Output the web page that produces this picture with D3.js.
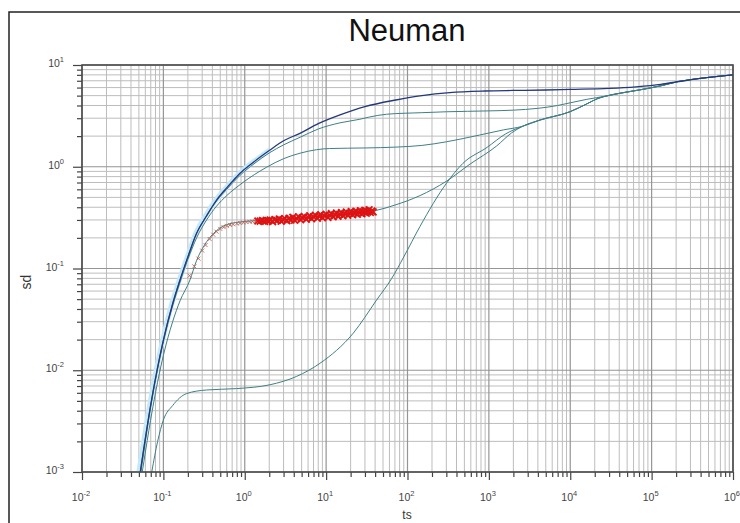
<!DOCTYPE html>
<html><head><meta charset="utf-8">
<script src="https://cdn.jsdelivr.net/npm/d3@7"></script>
<style>body{margin:0;background:#fff}svg{display:block}</style>
</head><body>
<script>
// ---- data ----
const title = "Neuman";
const xLabel = "ts";
const yLabel = "sd";
const xDomain = [1e-2, 1e6];
const yDomain = [1e-3, 1e1];
const xExponents = [-2, -1, 0, 1, 2, 3, 4, 5, 6];
const yExponents = [-3, -2, -1, 0, 1];

// shared late-time branch
const lateTail = [[27500,4.95],[45000,5.35],[72000,5.7],[130000,6.25],[210000,6.86],[400000,7.4],[1000000,8.0]];
const lowTail = [[2600,2.5],[4260,2.88],[9890,3.47],[16000,4.15],[22000,4.7]];

const curveTop = [[0.052,0.001],[0.07,0.0046],[0.1,0.0198],[0.13,0.045],[0.16,0.077],[0.2,0.13],[0.256,0.222],[0.34,0.33],[0.45,0.47],[0.6,0.62],[0.87,0.86],[1.3,1.12],[2.04,1.46],[3,1.8],[4.76,2.13],[8,2.65],[14.8,3.23],[30,3.9],[72,4.53],[150,5.0],[330,5.35],[900,5.55],[1950,5.62],[5000,5.68],[10000,5.75],[30000,5.88],[64500,6.1],[130000,6.45],[210000,6.86],[400000,7.4],[1000000,8.0]];
const curveB2 = [[0.052,0.001],[0.07,0.0046],[0.1,0.0198],[0.13,0.045],[0.16,0.077],[0.2,0.13],[0.256,0.222],[0.34,0.33],[0.45,0.46],[0.6,0.6],[0.87,0.82],[1.3,1.07],[2.04,1.38],[3,1.64],[4.8,1.95],[8,2.35],[14.8,2.7],[26,2.93],[34,3.08],[55,3.28],[150,3.4],[300,3.47],[1000,3.54],[2000,3.6],[4000,3.75],[7000,4.0],[10000,4.25],[16000,4.6]];
const curveB3 = [[0.053,0.001],[0.07,0.0044],[0.1,0.019],[0.13,0.043],[0.16,0.073],[0.2,0.123],[0.256,0.2],[0.34,0.3],[0.45,0.41],[0.6,0.52],[0.95,0.7],[1.86,0.99],[3,1.2],[4.8,1.36],[7.6,1.47],[11,1.51],[30,1.53],[72,1.56],[150,1.62],[302,1.76],[770,2.05],[1500,2.3]];
const curveB4 = [[0.055,0.001],[0.08,0.006],[0.1,0.014],[0.13,0.03],[0.16,0.048],[0.212,0.077],[0.256,0.12],[0.32,0.17],[0.41,0.22],[0.6,0.27],[1,0.29],[2,0.3],[5,0.315],[10,0.33],[20,0.345],[40,0.37],[70,0.42],[142,0.52],[300,0.72],[585,1.06],[1245,1.6],[1900,2.15]];
const curveB5 = [[0.072,0.001],[0.085,0.002],[0.1,0.00324],[0.13,0.0045],[0.193,0.0059],[0.34,0.0064],[0.79,0.0066],[2.04,0.0072],[4.34,0.0087],[8.4,0.0117],[21.5,0.0231],[41.7,0.049],[64,0.08],[90,0.13],[142,0.258],[302,0.69],[480,1.08],[950,1.55],[1600,2.1]];
const haloTop = [[0.05,0.001],[0.068,0.0046],[0.098,0.0198],[0.127,0.045],[0.157,0.077],[0.197,0.13],[0.25,0.222],[0.33,0.33],[0.44,0.47],[0.6,0.63],[0.87,0.87],[1.3,1.13],[2.04,1.47]];

const dataTs = [0.21,0.24,0.27,0.3,0.33,0.37,0.41,0.45,0.5,0.55,0.6,0.66,0.72,0.8,0.88,0.96,1.05,1.15,1.25,1.35,1.45,1.55,1.65,1.75,1.85,1.95,2.05,2.2,2.35,2.5,2.65,2.8,2.95,3.1,3.3,3.5,3.7,3.9,4.1,4.35,4.6,4.85,5.1,5.4,5.7,6.0,6.3,6.6,7.0,7.4,7.8,8.2,8.6,9.0,9.5,10,10.5,11,11.6,12.2,12.8,13.4,14,14.7,15.4,16.1,16.9,17.7,18.5,19.4,20.3,21.2,22.2,23.2,24.2,25.3,26.4,27.5,28.7,29.9,31.1,32.4,33.7,35,36.4,37.8];
const dataSd = [0.085,0.105,0.125,0.15,0.17,0.195,0.215,0.23,0.245,0.255,0.262,0.268,0.272,0.276,0.28,0.283,0.286,0.288,0.29,0.291,0.293,0.292,0.296,0.29,0.298,0.294,0.3,0.289,0.303,0.296,0.307,0.292,0.301,0.31,0.295,0.312,0.3,0.318,0.298,0.31,0.322,0.302,0.315,0.325,0.305,0.319,0.33,0.308,0.322,0.334,0.312,0.327,0.338,0.316,0.33,0.342,0.318,0.334,0.346,0.322,0.337,0.35,0.326,0.341,0.354,0.33,0.345,0.358,0.334,0.349,0.362,0.338,0.352,0.366,0.342,0.356,0.37,0.346,0.36,0.374,0.35,0.364,0.378,0.355,0.368,0.36];

// ---- drawing ----
const W = 740, H = 523;
const svg = d3.select("body").append("svg").attr("width", W).attr("height", H);
const x = d3.scaleLog().domain(xDomain).range([82, 733]);
const y = d3.scaleLog().domain(yDomain).range([472, 65]);

svg.append("rect").attr("x", 9).attr("y", 12).attr("width", 745).attr("height", 530)
  .attr("fill", "none").attr("stroke", "#222").attr("stroke-width", 1.5);

svg.append("text").attr("x", 407).attr("y", 41).attr("text-anchor", "middle")
  .attr("font-family", "Liberation Sans, Arial, sans-serif").attr("font-size", 31).attr("fill", "#111").text(title);

const minorOf = (exps) => {
  const out = [];
  for (let i = 0; i < exps.length - 1; i++) for (let k = 2; k <= 9; k++) out.push(k * Math.pow(10, exps[i]));
  return out;
};
const xMajor = xExponents.map(e => Math.pow(10, e));
const yMajor = yExponents.map(e => Math.pow(10, e));
const xMinor = minorOf(xExponents);
const yMinor = minorOf(yExponents);

const grid = svg.append("g");
grid.selectAll(".vx").data(xMinor).join("line").attr("x1", d => x(d)).attr("x2", d => x(d)).attr("y1", 65).attr("y2", 472).attr("stroke", "#bdbdbd").attr("stroke-width", 1);
grid.selectAll(".hy").data(yMinor).join("line").attr("y1", d => y(d)).attr("y2", d => y(d)).attr("x1", 82).attr("x2", 733).attr("stroke", "#bdbdbd").attr("stroke-width", 1);
grid.selectAll(".vX").data(xMajor).join("line").attr("x1", d => x(d)).attr("x2", d => x(d)).attr("y1", 65).attr("y2", 472).attr("stroke", "#959595").attr("stroke-width", 1.2);
grid.selectAll(".hY").data(yMajor).join("line").attr("y1", d => y(d)).attr("y2", d => y(d)).attr("x1", 82).attr("x2", 733).attr("stroke", "#959595").attr("stroke-width", 1.2);

// axes ticks
const axB = svg.append("g").attr("transform", "translate(0,472)");
axB.call(d3.axisBottom(x).tickValues(xMinor).tickSize(5).tickFormat(""));
const axB2 = svg.append("g").attr("transform", "translate(0,472)");
axB2.call(d3.axisBottom(x).tickValues(xMajor).tickSize(8).tickFormat(""));
const axL = svg.append("g").attr("transform", "translate(82,0)");
axL.call(d3.axisLeft(y).tickValues(yMinor).tickSize(5).tickFormat(""));
const axL2 = svg.append("g").attr("transform", "translate(82,0)");
axL2.call(d3.axisLeft(y).tickValues(yMajor).tickSize(9).tickFormat(""));
svg.selectAll(".domain").remove();
svg.selectAll(".tick line").attr("stroke", "#444").attr("stroke-width", 1.2);

const font = "Liberation Sans, Arial, sans-serif";
xExponents.forEach(e => {
  const t = svg.append("text").attr("x", x(Math.pow(10, e)) - 1).attr("y", 501).attr("text-anchor", "middle")
    .attr("font-family", font).attr("font-size", 10.5).attr("fill", "#444");
  t.append("tspan").text("10");
  t.append("tspan").attr("dy", -5).attr("font-size", 7.5).text(e);
});
yExponents.forEach(e => {
  const t = svg.append("text").attr("x", 64).attr("y", y(Math.pow(10, e)) + 2).attr("text-anchor", "end")
    .attr("font-family", font).attr("font-size", 10.5).attr("fill", "#444");
  t.append("tspan").text("10");
  t.append("tspan").attr("dy", -5).attr("font-size", 7.5).text(e);
});
svg.append("text").attr("x", 407).attr("y", 519).attr("text-anchor", "middle").attr("font-family", font).attr("font-size", 12).attr("fill", "#333").text(xLabel);
svg.append("text").attr("transform", "translate(31,282) rotate(-90)").attr("text-anchor", "middle").attr("font-family", font).attr("font-size", 14).attr("fill", "#333").text(yLabel);

// plot area
svg.append("clipPath").attr("id", "clip").append("rect").attr("x", 82).attr("y", 65).attr("width", 651).attr("height", 407);
const plot = svg.append("g").attr("clip-path", "url(#clip)");
const line = d3.line().x(d => x(d[0])).y(d => y(d[1])).curve(d3.curveMonotoneX);

plot.append("path").datum(haloTop).attr("d", line).attr("fill", "none").attr("stroke", "#c6e9f8").attr("stroke-width", 5);
const teal = "#3f7f86";
[curveB5.concat(lowTail, lateTail), curveB4.concat(lowTail, lateTail), curveB3.concat(lowTail, lateTail), curveB2.concat(lateTail)]
  .forEach(c => plot.append("path").datum(c).attr("d", line).attr("fill", "none").attr("stroke", teal).attr("stroke-width", 1));
plot.append("path").datum(curveTop).attr("d", line).attr("fill", "none").attr("stroke", "#24387c").attr("stroke-width", 1.3);

// observed data (x markers)
const pts = dataTs.map((t, i) => [t, dataSd[i]]);
const mk = plot.append("g");
pts.forEach(d => {
  const early = d[0] < 1.4;
  const s = early ? 2 : 3.4;
  const cx = x(d[0]), cy = y(d[1]);
  mk.append("path").attr("d", `M${cx - s},${cy - s}L${cx + s},${cy + s}M${cx - s},${cy + s}L${cx + s},${cy - s}`)
    .attr("stroke", early ? "#b86a5a" : "#dd1414").attr("stroke-width", early ? 0.9 : 1.8).attr("fill", "none");
});

// plot frame
svg.append("rect").attr("x", 82).attr("y", 65).attr("width", 651).attr("height", 407)
  .attr("fill", "none").attr("stroke", "#4a4a4a").attr("stroke-width", 1.6);
</script>
</body></html>
